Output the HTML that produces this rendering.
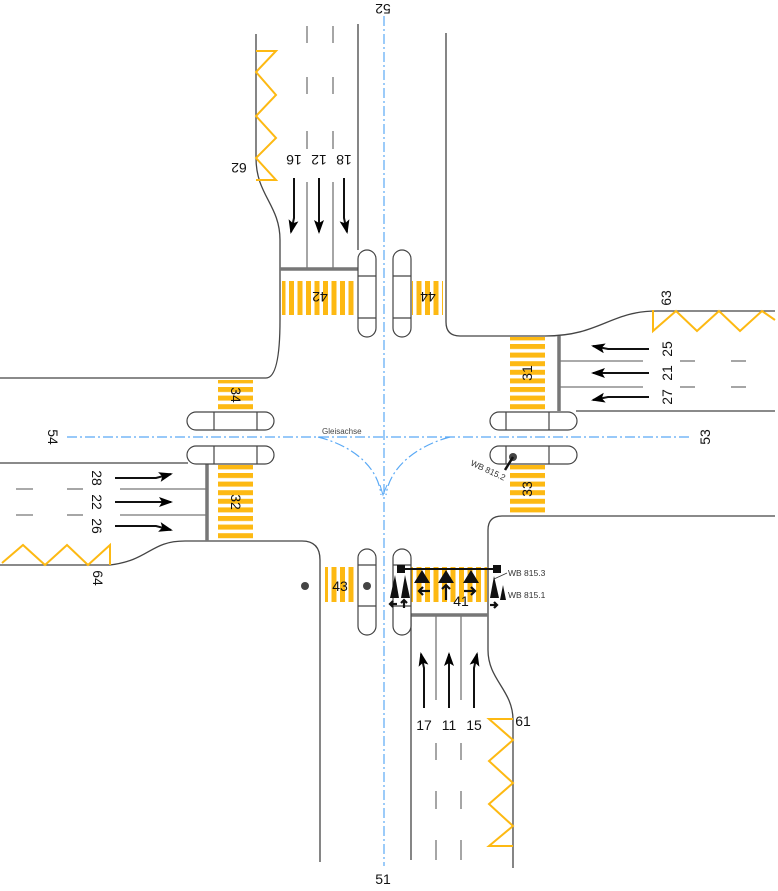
<!DOCTYPE html>
<html><head><meta charset="utf-8"><style>
html,body{margin:0;padding:0;background:#fff;}
svg{display:block;font-family:"Liberation Sans",sans-serif;}
</style></head><body>
<svg width="778" height="891" viewBox="0 0 778 891" xmlns="http://www.w3.org/2000/svg">
<defs>
<pattern id="vs" width="8.5" height="10" patternUnits="userSpaceOnUse"><rect x="0" y="0" width="5" height="10" fill="#fdb913"/></pattern>
<pattern id="hs" width="10" height="8.6" patternUnits="userSpaceOnUse"><rect x="0" y="0" width="10" height="5" fill="#fdb913"/></pattern>
<marker id="ah" markerWidth="14" markerHeight="10" refX="12" refY="5" orient="auto" markerUnits="userSpaceOnUse"><path d="M0,0 L14,5 L0,10 L3,5 Z" fill="#000"/></marker>
</defs>
<g fill="none" stroke="#444" stroke-width="1.3">
<path d="M256,34 V158 C256,195 280,205 280,240 V320 Q280,378 266,378 H0"/>
<path d="M446,33 V322 Q446,336 460,336 H545 C600,336 610,311 657,311 H775"/>
<line x1="358" y1="24" x2="358" y2="250"/>
<line x1="576" y1="411" x2="775" y2="411"/>
<path d="M775,516 H502 Q488,516 488,530 V650 C488,680 513,690 513,720 V868"/>
<line x1="0" y1="463" x2="188" y2="463"/>
<path d="M0,565 H110 C150,560 150,541 185,541 H302 Q320,541 320,560 V862"/>
<line x1="411" y1="615" x2="411" y2="860"/>
</g>
<g stroke="#777" stroke-width="1.3">
<line x1="307" y1="182" x2="307" y2="269"/><line x1="333" y1="182" x2="333" y2="269"/>
<line x1="307" y1="26" x2="307" y2="43"/><line x1="333" y1="26" x2="333" y2="43"/>
<line x1="307" y1="77" x2="307" y2="94"/><line x1="333" y1="77" x2="333" y2="94"/>
<line x1="307" y1="131" x2="307" y2="149"/><line x1="333" y1="131" x2="333" y2="149"/>
<line x1="559" y1="361" x2="643" y2="361"/><line x1="559" y1="387" x2="643" y2="387"/>
<line x1="680" y1="361" x2="695" y2="361"/><line x1="731" y1="361" x2="746" y2="361"/>
<line x1="680" y1="387" x2="695" y2="387"/><line x1="731" y1="387" x2="746" y2="387"/>
<line x1="120" y1="489" x2="207" y2="489"/><line x1="120" y1="515" x2="207" y2="515"/>
<line x1="16" y1="489" x2="33" y2="489"/><line x1="67" y1="489" x2="83" y2="489"/>
<line x1="16" y1="515" x2="33" y2="515"/><line x1="67" y1="515" x2="83" y2="515"/>
<line x1="436" y1="615" x2="436" y2="700"/><line x1="461" y1="615" x2="461" y2="700"/>
<line x1="436" y1="743" x2="436" y2="760"/><line x1="461" y1="743" x2="461" y2="760"/>
<line x1="436" y1="791" x2="436" y2="809"/><line x1="461" y1="791" x2="461" y2="809"/>
<line x1="436" y1="840" x2="436" y2="860"/><line x1="461" y1="840" x2="461" y2="860"/>
</g>
<g stroke="#777" stroke-width="3.5">
<line x1="280" y1="269" x2="358" y2="269"/>
<line x1="559" y1="336" x2="559" y2="411"/>
<line x1="207" y1="463" x2="207" y2="541"/>
<line x1="411" y1="615" x2="488" y2="615"/>
</g>
<rect x="282" y="281" width="74" height="34" fill="url(#vs)"/>
<rect x="412" y="281" width="31" height="34" fill="url(#vs)"/>
<rect x="325" y="567" width="30" height="35" fill="url(#vs)"/>
<rect x="411" y="567" width="76" height="35" fill="url(#vs)"/>
<rect x="510" y="337" width="35" height="74" fill="url(#hs)"/>
<rect x="510" y="465" width="35" height="49" fill="url(#hs)"/>
<rect x="218" y="465" width="35" height="75" fill="url(#hs)"/>
<rect x="218" y="380" width="35" height="31" fill="url(#hs)"/>
<g fill="none" stroke="#fdb913" stroke-width="2">
<polyline points="256,51 276,51 256,72 276,95 256,116 276,138 256,158 276,180 256,180"/>
<polyline points="653,310 653,331 676,311 697,331 719,311 740,331 762,311 775,320"/>
<polyline points="2,563 23,545 45,565 67,545 88,565 110,545 110,565"/>
<polyline points="513,719 489,719 513,740 489,761 513,783 489,804 513,826 489,846 513,846"/>
</g>
<g fill="#fff" stroke="#444" stroke-width="1.2">
<rect x="358" y="250" width="18" height="87" rx="9"/><line x1="358" y1="276" x2="376" y2="276"/><line x1="358" y1="318" x2="376" y2="318"/>
<rect x="393" y="250" width="18" height="87" rx="9"/><line x1="393" y1="276" x2="411" y2="276"/><line x1="393" y1="318" x2="411" y2="318"/>
<rect x="358" y="549" width="18" height="86" rx="9"/><line x1="358" y1="565" x2="376" y2="565"/><line x1="358" y1="606" x2="376" y2="606"/>
<rect x="393" y="549" width="18" height="86" rx="9"/><line x1="393" y1="565" x2="411" y2="565"/><line x1="393" y1="606" x2="411" y2="606"/>
<rect x="490" y="412" width="87" height="18" rx="9"/><line x1="506" y1="412" x2="506" y2="430"/><line x1="549" y1="412" x2="549" y2="430"/>
<rect x="490" y="446" width="87" height="18" rx="9"/><line x1="506" y1="446" x2="506" y2="464"/><line x1="549" y1="446" x2="549" y2="464"/>
<rect x="187" y="412" width="87" height="18" rx="9"/><line x1="214" y1="412" x2="214" y2="430"/><line x1="257" y1="412" x2="257" y2="430"/>
<rect x="187" y="446" width="87" height="18" rx="9"/><line x1="214" y1="446" x2="214" y2="464"/><line x1="257" y1="446" x2="257" y2="464"/>
</g>
<g fill="none" stroke="#5aa9f5" stroke-width="1.2" stroke-dasharray="10,3,2,3">
<line x1="384" y1="16" x2="384" y2="866"/>
<line x1="67" y1="437" x2="692" y2="437"/>
<path d="M318,437 C350,445 378,465 381,495"/>
<path d="M450,437 C420,445 390,465 386,495"/>
</g>
<path d="M380,485 L383,495 L387,485" fill="none" stroke="#5aa9f5" stroke-width="1"/>
<text x="322" y="434" font-size="8" fill="#444">Gleisachse</text>
<g stroke="#111" stroke-width="2" fill="none" marker-end="url(#ah)">
<path d="M294,178 V218 L291,232"/>
<path d="M319,178 V232"/>
<path d="M344,178 V218 L347,232"/>
<path d="M649,349 H608 L593,346"/>
<path d="M649,373 H593"/>
<path d="M649,397 H608 L593,400"/>
<path d="M115,478 H156 L171,474"/>
<path d="M115,502 H171"/>
<path d="M115,526 H156 L171,530"/>
<path d="M424,708 V668 L421,654"/>
<path d="M449,708 V654"/>
<path d="M474,708 V668 L477,654"/>
</g>
<g fill="#444"><circle cx="305" cy="586" r="4"/><circle cx="367" cy="586" r="4"/><circle cx="513" cy="457" r="4"/></g>
<line x1="513" y1="457" x2="505" y2="470" stroke="#111" stroke-width="2.5"/>
<line x1="401" y1="569" x2="497" y2="569" stroke="#111" stroke-width="2"/>
<rect x="397" y="565" width="8" height="8" fill="#111"/><rect x="493" y="565" width="8" height="8" fill="#111"/>
<g fill="#111">
<path d="M414,583 L430,583 L422,570Z"/>
<path d="M438,583 L454,583 L446,570Z"/>
<path d="M463,583 L479,583 L471,570Z"/>
<path d="M390,598 L399,598 L395,575Z"/><path d="M401,598 L410,598 L405,575Z"/>
<path d="M490,598 L499,598 L494,576Z"/><path d="M500,600 L506,600 L503,585Z"/>
</g>
<g stroke="#111" stroke-width="2.2" fill="none">
<line x1="430" y1="591" x2="419" y2="591"/><path d="M423,587 L419,591 L423,595"/>
<line x1="446" y1="600" x2="446" y2="585"/><path d="M442,589 L446,585 L450,589"/>
<line x1="464" y1="591" x2="475" y2="591"/><path d="M471,587 L475,591 L471,595"/>
<line x1="397" y1="604" x2="390" y2="604"/><path d="M393,601 L390,604 L393,607"/>
<line x1="404" y1="608" x2="404" y2="600"/><path d="M401,603 L404,600 L407,603"/>
<line x1="490" y1="605" x2="497" y2="605"/><path d="M494,602 L497,605 L494,608"/>
</g>
<line x1="494" y1="579" x2="507" y2="573" stroke="#333" stroke-width="0.8"/>
<g font-size="8.5" fill="#333">
<text x="508" y="576">WB 815.3</text>
<text x="508" y="598">WB 815.1</text>
<text transform="translate(470,465) rotate(25)">WB 815.2</text>
</g>
<g font-size="14" fill="#111" text-anchor="middle">
<text transform="translate(383,4) rotate(180)">52</text>
<text x="383" y="884">51</text>
<text transform="translate(48,437) rotate(90)">54</text>
<text transform="translate(710,437) rotate(-90)">53</text>
<text transform="translate(294,155) rotate(180)">16</text>
<text transform="translate(319,155) rotate(180)">12</text>
<text transform="translate(344,155) rotate(180)">18</text>
<text transform="translate(239,163) rotate(180)">62</text>
<text transform="translate(320,292) rotate(180)">42</text>
<text transform="translate(428,292) rotate(180)">44</text>
<text transform="translate(672,349) rotate(-90)">25</text>
<text transform="translate(672,373) rotate(-90)">21</text>
<text transform="translate(672,397) rotate(-90)">27</text>
<text transform="translate(671,298) rotate(-90)">63</text>
<text transform="translate(532,373) rotate(-90)">31</text>
<text transform="translate(532,489) rotate(-90)">33</text>
<text transform="translate(92,478) rotate(90)">28</text>
<text transform="translate(92,502) rotate(90)">22</text>
<text transform="translate(92,526) rotate(90)">26</text>
<text transform="translate(93,578) rotate(90)">64</text>
<text transform="translate(231,502) rotate(90)">32</text>
<text transform="translate(231,395) rotate(90)">34</text>
<text x="340" y="591">43</text>
<text x="461" y="606">41</text>
<text x="424" y="730">17</text>
<text x="449" y="730">11</text>
<text x="474" y="730">15</text>
<text x="523" y="726">61</text>
</g>
</svg>
</body></html>
